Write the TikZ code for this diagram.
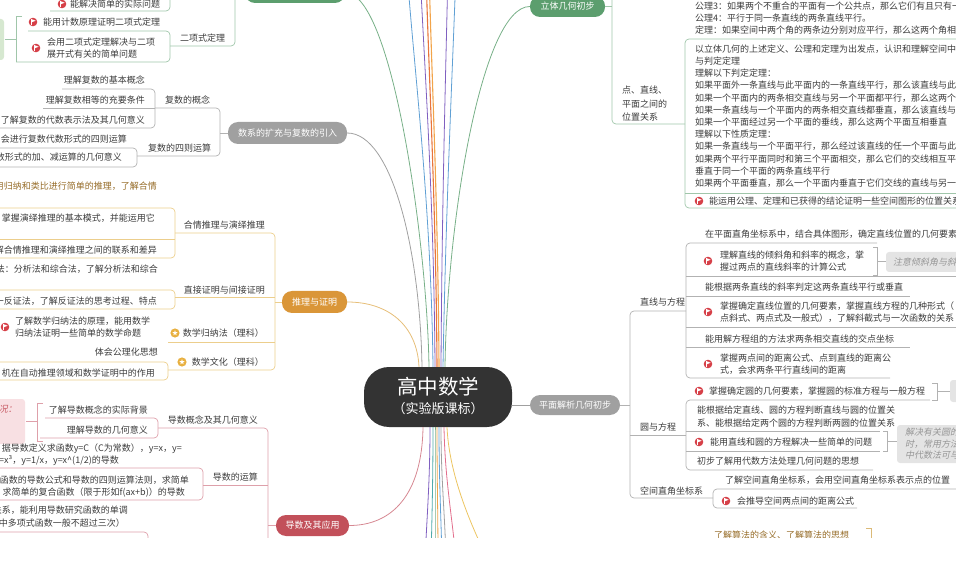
\documentclass[tikz,border=0pt]{standalone}
\usepackage{fontspec}
\usepackage{xcolor}
\usepackage{tikz}
\usetikzlibrary{positioning,calc}
\newfontfamily\cjk{Noto Sans CJK SC}
\newfontfamily\cjkit[FakeSlant=0.2]{Noto Sans CJK SC}

\definecolor{RootDark}{RGB}{51,51,51}
\definecolor{PillGreen}{RGB}{92,158,110}
\definecolor{PillGray}{RGB}{160,160,160}
\definecolor{PillOrange}{RGB}{218,150,56}
\definecolor{PillRed}{RGB}{194,80,90}
\definecolor{LineGreen}{RGB}{160,198,170}
\definecolor{LineGray}{RGB}{178,178,178}
\definecolor{LineOrange}{RGB}{236,206,140}
\definecolor{LinePink}{RGB}{222,160,170}
\definecolor{TextGray}{RGB}{60,60,60}
\definecolor{BrownText}{RGB}{150,108,40}
\definecolor{FlagRed}{RGB}{214,64,72}
\definecolor{StarGold}{RGB}{232,176,64}
\definecolor{NoteGray}{RGB}{228,228,228}
\definecolor{NoteGreen}{RGB}{214,232,208}
\definecolor{NotePink}{RGB}{248,224,227}
\definecolor{NoteText}{RGB}{150,150,150}
\definecolor{NoteRed}{RGB}{200,90,100}
\definecolor{LinkGreen}{RGB}{120,176,136}
\definecolor{LinkBlue}{RGB}{96,160,212}
\definecolor{LinkPurple}{RGB}{128,96,192}
\definecolor{LinkOrange}{RGB}{232,116,60}
\definecolor{LinkAmber}{RGB}{242,164,74}
\definecolor{LinkTeal}{RGB}{80,170,170}
\definecolor{LinkPink}{RGB}{226,110,140}
\definecolor{LinkYellow}{RGB}{236,196,96}
\definecolor{LinkTan}{RGB}{230,190,120}

\tikzset{
  pill/.style={rectangle, rounded corners=10pt, inner sep=0pt, text=white,
    font=\cjk\fontsize{9}{11}\selectfont},
  rootbox/.style={rectangle, rounded corners=25pt, fill=RootDark,
    minimum width=148pt, minimum height=60pt},
  leaf/.style={inner sep=0pt, anchor=west, align=left, text=TextGray,
    font=\cjk\fontsize{9}{12.5}\selectfont},
  leafl/.style={leaf, anchor=east},
  notetext/.style={leaf, text=NoteText, font=\cjkit\fontsize{9}{11.5}\selectfont},
  link/.style={line width=0.7pt, rounded corners=4pt},
  mainlink/.style={line width=0.8pt},
  brace/.style={line width=0.7pt},
  flagicon/.pic={
    \fill[FlagRed] (0,0) circle (4.3pt);
    \fill[white] (-2,2.7) rectangle (-1.2,-2.7);
    \fill[white] (-1.2,-2.7) -- (2.7,-1.3) -- (-1.2,0.3) -- cycle;
  },
  staricon/.pic={
    \fill[StarGold] (0,0) circle (4.6pt);
    \fill[white] plot[samples at={0,...,9}, variable=\k]
      ({270+36*\k}:{mod(\k,2)==0 ? 2.8 : 1.15}) -- cycle;
  }
}

\begin{document}
\begin{tikzpicture}[x=1pt, y=-1pt]
\useasboundingbox (0,0) rectangle (956,561);
\clip (0,0) rectangle (956,537);

% 中心主题
\node[rootbox] (root) at (438,397) {};
\node[inner sep=0pt, text=white, font=\cjk\fontsize{20.5}{24}\selectfont] (roottitle) at (438,387) {高中数学};
\node[inner sep=0pt, text=white, font=\cjk\fontsize{13}{15}\selectfont] (rootsub) at (438,408.5) {（实验版课标）};

% 主题
\node[pill, fill=PillGreen, minimum width=100pt, minimum height=21pt] (jsyl) at (295,-7.5) {};
\node[pill, fill=PillGreen, minimum width=75pt, minimum height=21pt] (ltjh) at (567.5,6.5) {立体几何初步};
\node[pill, fill=PillGray, minimum width=119pt, minimum height=22pt] (sxkc) at (287.5,133) {数系的扩充与复数的引入};
\node[pill, fill=PillOrange, minimum width=65pt, minimum height=22pt] (tlzm) at (314.5,302) {推理与证明};
\node[pill, fill=PillRed, minimum width=73pt, minimum height=21pt] (dsyy) at (312.5,525.5) {导数及其应用};
\node[pill, fill=PillGray, minimum width=90pt, minimum height=20pt] (pmjx) at (575,405) {平面解析几何初步};

% 画面外的主题
\coordinate (up1) at (407,-30);
\coordinate (up2) at (420,-30);
\coordinate (up3) at (426,-30);
\coordinate (up4) at (429,-30);
\coordinate (up5) at (448,-30);
\coordinate (up6) at (456,-30);
\coordinate (dn1) at (425,560);
\coordinate (dn2) at (431,560);
\coordinate (dn3) at (435,560);
\coordinate (dn4) at (438,560);
\coordinate (dn5) at (442,560);
\coordinate (dn6) at (446,560);
\coordinate (dn7) at (456,560);
\coordinate (dn8) at (488,560);

% 中心连线
\draw[mainlink, LinkGreen] (jsyl.east) .. controls (392,-7.5) and (427,240) .. ($(root.north)+(-9,0)$);
\draw[mainlink, LinkGreen] (ltjh.west) .. controls (482,6.5) and (447,220) .. ($(root.north)+(7,0)$);
\draw[mainlink, PillGray] (sxkc.east) .. controls (392,133) and (420,250) .. ($(root.north)+(-16,0)$);
\draw[mainlink, LinkTan] (tlzm.east) .. controls (388,302) and (417,325) .. ($(root.north)+(-19,0)$);
\draw[mainlink, LinePink!70!PillRed] ($(root.south)+(-15,0)$) .. controls (422,495) and (392,525.5) .. (dsyy.east);
\draw[mainlink, PillGray] (root.east |- pmjx.west) -- (pmjx.west);

\draw[mainlink, LinkBlue] ($(root.north)+(-5,0)$) .. controls (431,200) and (413,60) .. (up1);
\draw[mainlink, LinkPurple] ($(root.north)+(-3,0)$) .. controls (434,200) and (424,60) .. (up2);
\draw[line width=1.1pt, LinkOrange] ($(root.north)+(-1,0)$) .. controls (436,200) and (428,60) .. (up3);
\draw[line width=1.1pt, LinkAmber] ($(root.north)+(1,0)$) .. controls (438,200) and (431,60) .. (up4);
\draw[mainlink, LinkPurple] ($(root.north)+(3,0)$) .. controls (442,200) and (446,60) .. (up5);
\draw[mainlink, LinkBlue] ($(root.north)+(5,0)$) .. controls (446,200) and (453,60) .. (up6);

\draw[mainlink, LinkPurple] ($(root.south)+(-8,0)$) .. controls (430,480) and (427,515) .. (dn1);
\draw[mainlink, LinkTeal] ($(root.south)+(-5,0)$) .. controls (433,480) and (432,515) .. (dn2);
\draw[mainlink, LinkGreen] ($(root.south)+(-3,0)$) .. controls (435,480) and (435,515) .. (dn3);
\draw[mainlink, LinkAmber] ($(root.south)+(-1,0)$) .. controls (437,480) and (438,515) .. (dn4);
\draw[mainlink, LinkBlue] ($(root.south)+(1,0)$) .. controls (439,480) and (441,515) .. (dn5);
\draw[mainlink, PillGray] ($(root.south)+(3,0)$) .. controls (441,480) and (445,515) .. (dn6);
\draw[mainlink, LinkPink] ($(root.south)+(6,0)$) .. controls (445,480) and (452,515) .. (dn7);
\draw[mainlink, LinkYellow] ($(root.south)+(9,0)$) .. controls (449,470) and (466,515) .. (dn8);

% 二项式定理
\pic at (62,4) {flagicon};
\node[leaf] (jj) at (70,4) {能解决简单的实际问题};
\node[leaf] (ecs) at (180,38) {二项式定理};
\pic at (33,22) {flagicon};
\node[leaf] (ecs1) at (43,22) {能用计数原理证明二项式定理};
\pic at (36,48) {flagicon};
\node[leaf] (ecs2) at (47,48) {会用二项式定理解决与二项\\展开式有关的简单问题};
\draw[link, LineGreen] (jsyl.west) -- (235,-7.5) -- (235,46) -- (170,46);
\draw[link, LineGreen] (50,11) -- (170,11) -- (170,-15);
\draw[link, LineGreen] (28,31) -- (170,31) -- (170,62) -- (16,62);
\draw[brace, LineGreen] (22,16) -- (16,16) -- (16,62);
\draw[brace, LineGreen] (16,39) -- (5,39);
\fill[NoteGreen, rounded corners=3pt] (-20,19) rectangle (4,60);

% 数系的扩充与复数的引入
\node[leaf] (fsgn) at (165,100) {复数的概念};
\node[leaf] (fsys) at (148,148) {复数的四则运算};
\node[leafl] (fs1) at (145,80) {理解复数的基本概念};
\node[leafl] (fs2) at (145,100) {理解复数相等的充要条件};
\node[leafl] (fs3) at (145,120) {了解复数的代数表示法及其几何意义};
\node[leafl] (fs4) at (127,139) {会进行复数代数形式的四则运算};
\node[leafl] (fs5) at (122,157) {数形式的加、减运算的几何意义};
\draw[link, LineGray] (sxkc.west) -- (220,133);
\draw[link, LineGray] (155,108) -- (220,108) -- (220,156) -- (137,156);
\draw[link, LineGray] (62,89) -- (155,89) -- (155,128) -- (-5,128);
\draw[link, LineGray] (43,108) -- (155,108);
\draw[link, LineGray] (-5,148) -- (137,148) -- (137,167) -- (-5,167);

% 推理与证明
\node[leafl] (hqtl) at (265,225) {合情推理与演绎推理};
\node[leafl] (zjzm) at (265,290) {直接证明与间接证明};
\node[leafl] (sxgn) at (264,333) {数学归纳法（理科）};
\pic at (175,333) {staricon};
\node[leafl] (sxwh) at (264,362) {数学文化（理科）};
\pic at (182,362) {staricon};
\draw[link, LineOrange] (tlzm.west) -- (275,302);
\draw[link, LineOrange] (175,233) -- (275,233) -- (275,370) -- (168,370);
\draw[link, LineOrange] (175,297) -- (275,297);
\draw[link, LineOrange] (168,342) -- (275,342);

\node[leafl, text=BrownText] (hq1) at (157,186) {用归纳和类比进行简单的推理，了解合情};
\node[leafl] (hq2) at (155,218) {掌握演绎推理的基本模式，并能运用它};
\node[leafl] (hq3) at (157,250) {解合情推理和演绎推理之间的联系和差异};
\draw[link, LineOrange] (-5,208) -- (175,208) -- (175,258) -- (-5,258);
\draw[link, LineOrange] (-5,239) -- (175,239);

\node[leafl] (zj1) at (158,269) {法：分析法和综合法，了解分析法和综合};
\node[leafl] (zj2) at (157,301) {一反证法，了解反证法的思考过程、特点};
\draw[link, LineOrange] (-5,290) -- (175,290) -- (175,309) -- (-5,309);

\pic at (5,327) {flagicon};
\node[leaf] (gn1) at (15,327) {了解数学归纳法的原理，能用数学\\归纳法证明一些简单的数学命题};

\node[leafl] (wh1) at (158,352) {体会公理化思想};
\node[leafl] (wh2) at (155,373) {机在自动推理领域和数学证明中的作用};
\draw[link, LineOrange] (-5,362) -- (168,362) -- (168,380) -- (-5,380);

% 导数及其应用
\node[leafl] (dsgn) at (258,420) {导数概念及其几何意义};
\node[leafl] (dsys) at (258,477) {导数的运算};
\draw[link, LinePink] (dsyy.west) -- (268,525.5);
\draw[link, LinePink] (158,428) -- (268,428) -- (268,545);
\draw[link, LinePink] (203,485) -- (268,485);

\node[leafl] (dg1) at (148,410) {了解导数概念的实际背景};
\node[leafl] (dg2) at (148,430) {理解导数的几何意义};
\draw[link, LinePink] (45,418) -- (158,418) -- (158,438) -- (40,438);
\draw[brace, LinePink] (43,403) -- (37,403) -- (37,441) -- (43,441);
\draw[brace, LinePink] (37,421) -- (26,421);
\fill[NotePink, rounded corners=3pt] (-30,399) rectangle (25,444);
\node[leafl, text=NoteRed, font=\cjkit\fontsize{9}{11}\selectfont] (dgn) at (17,409) {况：};

\node[leafl] (ys1a) at (182,449) {据导数定义求函数y=C（C为常数），y=x，y=};
\node[leaf] (ys1b) at (-1,461) {=x³，y=1/x，y=x\textasciicircum(1/2)的导数};
\node[leafl] (ys2a) at (189,480) {函数的导数公式和导数的四则运算法则，求简单};
\node[leafl] (ys2b) at (185,493) {求简单的复合函数（限于形如f(ax+b)）的导数};
\draw[link, LinePink] (-5,468) -- (203,468) -- (203,500) -- (-5,500);
\node[leafl] (ys3a) at (128,510) {关系，能利用导数研究函数的单调};
\node[leafl] (ys3b) at (125,523) {其中多项式函数一般不超过三次）};
\draw[link, LinePink] (-5,532) -- (148,532) -- (148,550);

% 立体几何初步
\draw[link, LineGreen] (ltjh.east) -- (612,6.5);
\draw[link, LineGreen] (612,-20) -- (612,124) -- (685,124);
\node[leaf, font=\cjk\fontsize{9}{13.5}\selectfont] (dzp) at (622,104) {点、直线、\\平面之间的\\位置关系};
\node[leaf] (gl3) at (695,6) {公理3：如果两个不重合的平面有一个公共点，那么它们有且只有一};
\node[leaf] (gl4) at (695,18) {公理4：平行于同一条直线的两条直线平行。};
\node[leaf] (dl) at (695,30) {定理：如果空间中两个角的两条边分别对应平行，那么这两个角相};
\node[leaf, font=\cjk\fontsize{9}{12.2}\selectfont] (ltkx) at (695,116) {以立体几何的上述定义、公理和定理为出发点，认识和理解空间中\\与判定定理\\理解以下判定定理：\\如果平面外一条直线与此平面内的一条直线平行，那么该直线与此\\如果一个平面内的两条相交直线与另一个平面都平行，那么这两个\\如果一条直线与一个平面内的两条相交直线都垂直，那么该直线与\\如果一个平面经过另一个平面的垂线，那么这两个平面互相垂直\\理解以下性质定理：\\如果一条直线与一个平面平行，那么经过该直线的任一个平面与此\\如果两个平行平面同时和第三个平面相交，那么它们的交线相互平\\垂直于同一个平面的两条直线平行\\如果两个平面垂直，那么一个平面内垂直于它们交线的直线与另一};
\pic at (699,201) {flagicon};
\node[leaf] (ltzm) at (709,201) {能运用公理、定理和已获得的结论证明一些空间图形的位置关系};
\draw[link, LineGreen] (960,39) -- (685,39) -- (685,208) -- (960,208);
\draw[link, LineGreen] (685,193) -- (960,193);

% 平面解析几何初步
\draw[link, LineGray] (pmjx.east) -- (630,405);
\draw[link, LineGray] (686,311) -- (630,311) -- (630,498) -- (713,498);
\draw[link, LineGray] (630,435) -- (686,435);
\node[leaf] (zxfc) at (640,302) {直线与方程};
\node[leaf] (yfc) at (640,427) {圆与方程};
\node[leaf] (kjzj) at (640,491) {空间直角坐标系};

\node[leaf] (zx1) at (705,234) {在平面直角坐标系中，结合具体图形，确定直线位置的几何要素};
\pic at (708,261) {flagicon};
\node[leaf] (zx2) at (720,261) {理解直线的倾斜角和斜率的概念，掌\\握过两点的直线斜率的计算公式};
\node[leaf] (zx3) at (705,287) {能根据两条直线的斜率判定这两条直线平行或垂直};
\pic at (708,312) {flagicon};
\node[leaf] (zx4) at (720,312) {掌握确定直线位置的几何要素，掌握直线方程的几种形式（\\点斜式、两点式及一般式），了解斜截式与一次函数的关系};
\node[leaf] (zx5) at (705,339) {能用解方程组的方法求两条相交直线的交点坐标};
\pic at (708,364) {flagicon};
\node[leaf] (zx6) at (720,364) {掌握两点间的距离公式、点到直线的距离公\\式，会求两条平行直线间的距离};
\draw[link, LineGray] (877,243) -- (686,243) -- (686,378) -- (890,378);
\draw[link, LineGray] (686,276) -- (960,276);
\draw[link, LineGray] (686,296) -- (910,296);
\draw[link, LineGray] (686,327) -- (960,327);
\draw[link, LineGray] (686,347) -- (910,347);
\draw[brace, LineGray] (873,247) -- (877,247) -- (877,275) -- (873,275);
\draw[brace, LineGray] (877,261) -- (886,261);
\fill[NoteGray, rounded corners=3pt] (886,252) rectangle (980,272);
\node[notetext] (zxn) at (893,262) {注意倾斜角与斜率};

\pic at (699,391) {flagicon};
\node[leaf] (yf1) at (709,391) {掌握确定圆的几何要素，掌握圆的标准方程与一般方程};
\node[leaf] (yf2) at (697,416.5) {能根据给定直线、圆的方程判断直线与圆的位置关\\系、能根据给定两个圆的方程判断两圆的位置关系};
\pic at (699,442) {flagicon};
\node[leaf] (yf3) at (710,442) {能用直线和圆的方程解决一些简单的问题};
\node[leaf] (yf4) at (697,461) {初步了解用代数方法处理几何问题的思想};
\draw[link, LineGray] (930,400) -- (686,400) -- (686,470) -- (873,470);
\draw[link, LineGray] (686,431) -- (880,431);
\draw[link, LineGray] (686,451) -- (880,451);
\draw[brace, LineGray] (932,383) -- (937,383) -- (937,400) -- (932,400);
\draw[brace, LineGray] (937,391) -- (950,391);
\fill[NoteGray, rounded corners=3pt] (950,380) rectangle (990,402);
\draw[brace, LineGray] (883,431) -- (887,431) -- (887,451) -- (883,451);
\draw[brace, LineGray] (887,441) -- (897,441);
\fill[NoteGray, rounded corners=3pt] (897,425) rectangle (990,463);
\node[notetext, font=\cjkit\fontsize{9}{11.5}\selectfont] (yfn) at (905,444) {解决有关圆的\\时，常用方法\\中代数法可与};

\node[leaf] (kj1) at (725,480) {了解空间直角坐标系，会用空间直角坐标系表示点的位置};
\pic at (726,501) {flagicon};
\node[leaf] (kj2) at (737,501) {会推导空间两点间的距离公式};
\draw[link, LineGray] (960,489) -- (713,489) -- (713,508) -- (857,508);

% 算法初步
\node[leaf, text=BrownText] (sf1) at (714,535) {了解算法的含义、了解算法的思想};
\draw[brace, LineOrange!80!BrownText] (866,528) -- (871,528) -- (871,545);
\end{tikzpicture}
\end{document}
